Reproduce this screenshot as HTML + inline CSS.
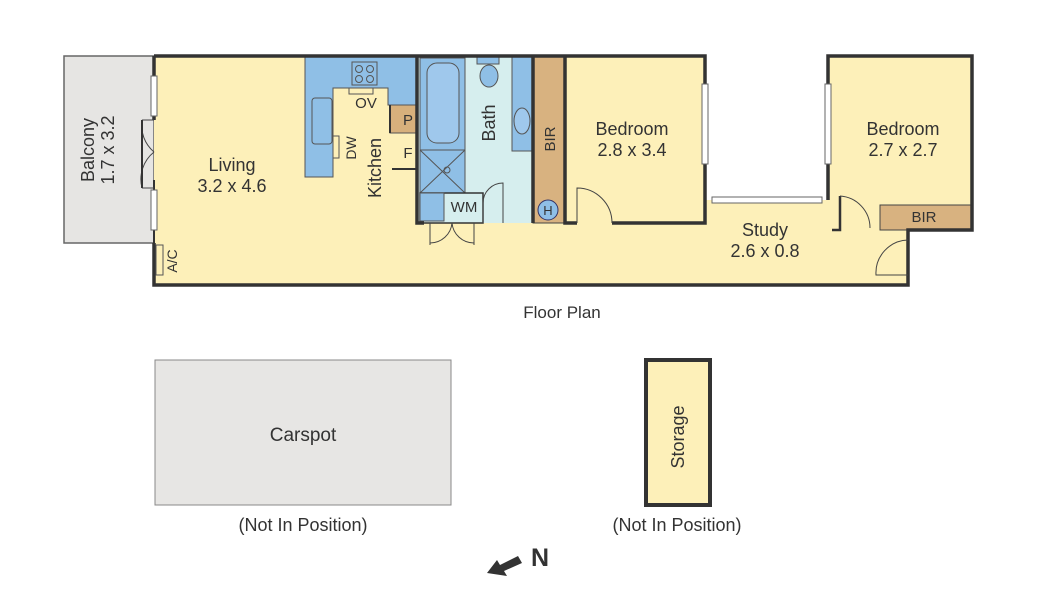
<!DOCTYPE html>
<html><head><meta charset="utf-8"><style>
html,body{margin:0;padding:0;background:#fff;}
svg{display:block;font-family:"Liberation Sans",Arial,sans-serif;}
</style></head><body>
<svg width="1040" height="614" viewBox="0 0 1040 614" xmlns="http://www.w3.org/2000/svg">
<rect x="64" y="56" width="90" height="187" fill="#e6e5e3" stroke="#666" stroke-width="1.5"/>
<polygon points="154,56 705,56 705,200 828,200 828,56 972,56 972,230 908,230 908,285 154,285" fill="#fdf0b9"/>
<path d="M305,56 H417 V105 H388 V88 H333 V177 H305 Z" fill="#8fbfe6" stroke="#555" stroke-width="1"/>
<rect x="312" y="98" width="20" height="46" rx="3" fill="none" stroke="#555"/>
<rect x="352" y="62" width="25" height="23" fill="none" stroke="#555"/>
<circle cx="359" cy="69" r="3.5" fill="none" stroke="#555"/><circle cx="370" cy="69" r="3.5" fill="none" stroke="#555"/>
<circle cx="359" cy="79" r="3.5" fill="none" stroke="#555"/><circle cx="370" cy="79" r="3.5" fill="none" stroke="#555"/>
<rect x="349" y="88" width="24" height="6" fill="none" stroke="#555"/>
<rect x="333" y="136" width="6" height="22" fill="none" stroke="#555"/>
<rect x="390" y="105" width="27" height="28" fill="#d7b07c" stroke="#555"/>
<line x1="390" y1="105" x2="390" y2="133" stroke="#333" stroke-width="2"/>
<line x1="392" y1="169" x2="417" y2="169" stroke="#333" stroke-width="2"/>
<rect x="417" y="56" width="116" height="167" fill="#d6eeee"/>
<rect x="420" y="58" width="45" height="92" fill="#8fbfe6" stroke="#555"/>
<rect x="427" y="63" width="32" height="80" rx="10" fill="#9fc8ec" stroke="#555"/>
<rect x="420" y="150" width="45" height="43" fill="#8fbfe6" stroke="#555"/>
<path d="M420,150 L465,193 M465,150 L420,193" stroke="#555" fill="none"/>
<circle cx="447" cy="170" r="3" fill="none" stroke="#555"/>
<rect x="420" y="193" width="63" height="30" fill="#d6eeee" stroke="#333" stroke-width="1.5"/>
<rect x="420" y="193" width="24" height="28" fill="#8fbfe6" stroke="#555"/>
<rect x="477" y="56" width="22" height="8" fill="#8fbfe6" stroke="#555"/>
<ellipse cx="489" cy="76" rx="9" ry="11" fill="#8fbfe6" stroke="#555"/>
<rect x="512" y="56" width="20" height="95" fill="#8fbfe6" stroke="#555"/>
<ellipse cx="522" cy="121" rx="8" ry="13" fill="#9fc8ec" stroke="#555"/>
<path d="M483,223 V203 A20,20 0 0 1 503,183 V223" fill="none" stroke="#444"/>
<rect x="533" y="56" width="32" height="167" fill="#d8b280" stroke="#444"/>
<circle cx="548" cy="210" r="10" fill="#8fbfe6" stroke="#336"/>
<rect x="880" y="205" width="92" height="25" fill="#d8b280" stroke="#444"/>
<g stroke="#333" stroke-width="3.5" fill="none">
<path d="M154,56 H705 V200"/>
<path d="M828,200 V56 H972 V230 H908 V285 H154 V243"/>
<path d="M154,56 V120"/>
<path d="M154,180 V243" stroke-width="2"/>
<path d="M417,56 V223 H424"/>
<path d="M565,56 V223 H577"/>
<path d="M612,223 H705 V200"/>
<path d="M533,56 V223"/>
<path d="M840,196 V230 H832" stroke-width="2.5"/>
</g>
<g stroke="#666" fill="#fff" stroke-width="1">
<rect x="151" y="76" width="6" height="40"/>
<rect x="151" y="190" width="6" height="40"/>
<rect x="702" y="84" width="6" height="80"/>
<rect x="825" y="84" width="6" height="80"/>
<rect x="712" y="197" width="110" height="6"/>
</g>
<path d="M154,120 H142 M142,120 A35,35 0 0 0 154,152 M154,152 A35,35 0 0 0 142,188 M142,188 H154" fill="none" stroke="#444"/>
<line x1="142" y1="120" x2="142" y2="188" stroke="#333" stroke-width="2"/>
<path d="M577,223 V188 A35,35 0 0 1 612,223" fill="none" stroke="#444"/>
<path d="M840,196 A32,32 0 0 1 870,228" fill="none" stroke="#444"/>
<path d="M908,240 A33,33 0 0 0 876,275 H908" fill="none" stroke="#444"/>
<path d="M430,223 V245 M430,243 A22,22 0 0 0 452,223 A22,22 0 0 0 474,243 M474,245 V223" fill="none" stroke="#444"/>
<rect x="156" y="245" width="7" height="30" fill="none" stroke="#555"/>
<rect x="155" y="360" width="296" height="145" fill="#e7e6e4" stroke="#888" stroke-width="1"/>
<rect x="646" y="360" width="64" height="145" fill="#fdf0b9" stroke="#333" stroke-width="4"/>
<g fill="#333" font-size="18" text-anchor="middle">
<text x="232" y="171">Living</text><text x="232" y="192">3.2 x 4.6</text>
<text x="632" y="135">Bedroom</text><text x="632" y="156">2.8 x 3.4</text>
<text x="903" y="135">Bedroom</text><text x="903" y="156">2.7 x 2.7</text>
<text x="765" y="236">Study</text><text x="765" y="257">2.6 x 0.8</text>
<text x="366" y="108" font-size="15">OV</text>
<text x="408" y="125" font-size="15">P</text>
<text x="408" y="158" font-size="15">F</text>
<text x="464" y="212" font-size="15">WM</text>
<text x="924" y="222" font-size="15">BIR</text>
<text x="548" y="215" font-size="13">H</text>
<text x="562" y="318" font-size="17">Floor Plan</text>
<text x="303" y="441" font-size="19">Carspot</text>
<text x="303" y="531" font-size="18">(Not In Position)</text>
<text x="677" y="531" font-size="18">(Not In Position)</text>
<text transform="translate(381,168) rotate(-90)" font-size="18">Kitchen</text>
<text transform="translate(495,123) rotate(-90)" font-size="18">Bath</text>
<text transform="translate(555,139) rotate(-90)" font-size="15">BIR</text>
<text transform="translate(356,148) rotate(-90)" font-size="14">DW</text>
<text transform="translate(177,261) rotate(-90)" font-size="14">A/C</text>
<text transform="translate(94,150) rotate(-90)" font-size="18">Balcony</text>
<text transform="translate(114,150) rotate(-90)" font-size="18">1.7 x 3.2</text>
<text transform="translate(684,437) rotate(-90)" font-size="18">Storage</text>
</g>
<polygon points="487,573 497,560 500,565 518,556 522,563 504,571 507,576" fill="#333"/>
<text x="540" y="566" font-size="25" font-weight="bold" fill="#333" text-anchor="middle">N</text>
</svg>
</body></html>
